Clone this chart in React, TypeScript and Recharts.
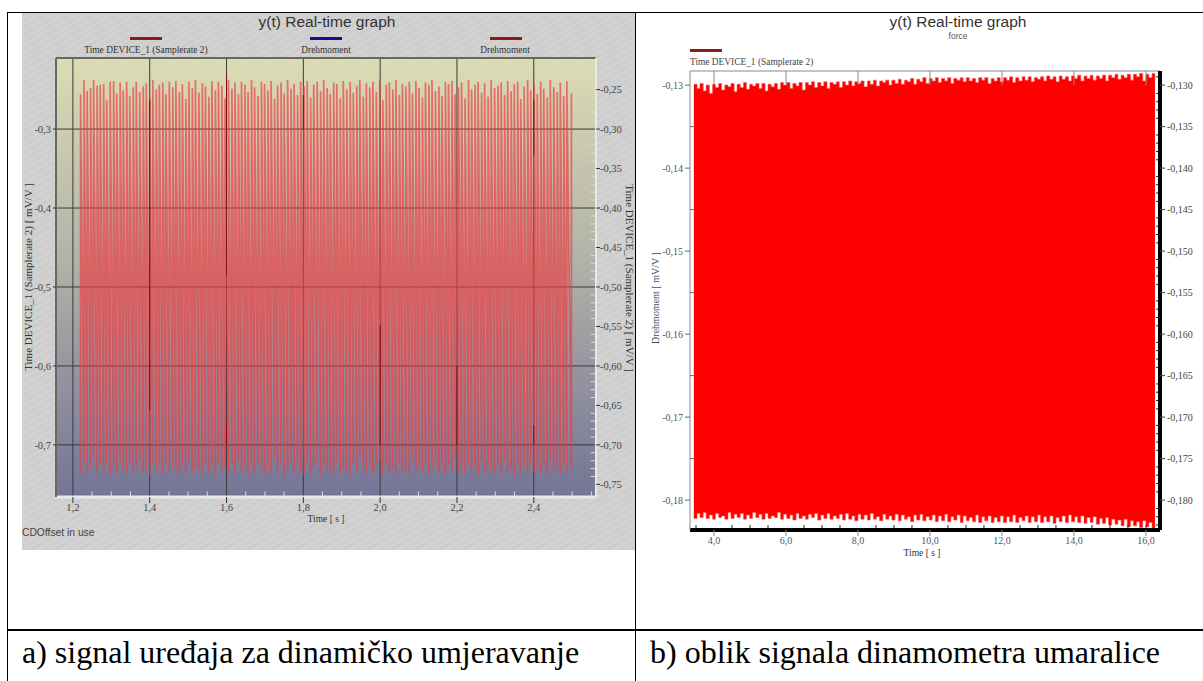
import type { CSSProperties, ReactNode } from 'react'
import { ComposedChart, Line, Area, XAxis, YAxis, CartesianGrid, ReferenceLine } from 'recharts'

// a) dynamic calibration device: one spike per sample time
const signalTimes = [
  1.220, 1.229, 1.237, 1.246, 1.254, 1.263, 1.271, 1.280, 1.288, 1.297,
  1.306, 1.314, 1.323, 1.331, 1.340, 1.348, 1.357, 1.365, 1.374, 1.383,
  1.391, 1.400, 1.408, 1.417, 1.425, 1.434, 1.442, 1.451, 1.460, 1.468,
  1.477, 1.485, 1.494, 1.502, 1.511, 1.519, 1.528, 1.537, 1.545, 1.554,
  1.562, 1.571, 1.579, 1.588, 1.596, 1.605, 1.614, 1.622, 1.631, 1.639,
  1.648, 1.656, 1.665, 1.673, 1.682, 1.691, 1.699, 1.708, 1.716, 1.725,
  1.733, 1.742, 1.750, 1.759, 1.768, 1.776, 1.785, 1.793, 1.802, 1.810,
  1.819, 1.827, 1.836, 1.845, 1.853, 1.862, 1.870, 1.879, 1.887, 1.896,
  1.904, 1.913, 1.922, 1.930, 1.939, 1.947, 1.956, 1.964, 1.973, 1.981,
  1.990, 1.999, 2.007, 2.016, 2.024, 2.033, 2.041, 2.050, 2.058, 2.067,
  2.076, 2.084, 2.093, 2.101, 2.110, 2.118, 2.127, 2.135, 2.144, 2.153,
  2.161, 2.170, 2.178, 2.187, 2.195, 2.204, 2.212, 2.221, 2.230, 2.238,
  2.247, 2.255, 2.264, 2.272, 2.281, 2.289, 2.298, 2.307, 2.315, 2.324,
  2.332, 2.341, 2.349, 2.358, 2.366, 2.375, 2.384, 2.392, 2.401, 2.409,
  2.418, 2.426, 2.435, 2.443, 2.452, 2.461, 2.469, 2.478, 2.486, 2.498,
]
const signalPeaks = [
  -0.256, -0.238, -0.252, -0.248, -0.238, -0.245, -0.244, -0.243, -0.263, -0.240,
  -0.239, -0.255, -0.241, -0.251, -0.240, -0.258, -0.247, -0.240, -0.253, -0.246,
  -0.242, -0.260, -0.238, -0.250, -0.244, -0.241, -0.256, -0.240, -0.247, -0.239,
  -0.253, -0.243, -0.262, -0.240, -0.248, -0.238, -0.254, -0.242, -0.246, -0.259,
  -0.239, -0.251, -0.240, -0.245, -0.261, -0.238, -0.249, -0.241, -0.256, -0.240,
  -0.244, -0.253, -0.238, -0.247, -0.258, -0.240, -0.243, -0.251, -0.239, -0.262,
  -0.245, -0.241, -0.255, -0.238, -0.249, -0.243, -0.257, -0.240, -0.246, -0.239,
  -0.260, -0.244, -0.240, -0.252, -0.238, -0.248, -0.256, -0.241, -0.243, -0.261,
  -0.239, -0.250, -0.240, -0.254, -0.245, -0.238, -0.259, -0.242, -0.247, -0.240,
  -0.253, -0.239, -0.263, -0.244, -0.241, -0.250, -0.238, -0.257, -0.243, -0.246,
  -0.240, -0.255, -0.239, -0.248, -0.260, -0.241, -0.244, -0.238, -0.252, -0.246,
  -0.258, -0.240, -0.243, -0.239, -0.256, -0.247, -0.241, -0.261, -0.238, -0.250,
  -0.244, -0.240, -0.254, -0.242, -0.259, -0.238, -0.248, -0.245, -0.241, -0.257,
  -0.239, -0.252, -0.243, -0.240, -0.262, -0.246, -0.238, -0.251, -0.244, -0.256,
  -0.240, -0.249, -0.260, -0.238, -0.247, -0.253, -0.241, -0.258, -0.239, -0.255,
]
const signalTroughs = [
  -0.735, -0.721, -0.736, -0.729, -0.718, -0.737, -0.726, -0.733, -0.722, -0.738,
  -0.727, -0.735, -0.720, -0.731, -0.737, -0.724, -0.734, -0.728, -0.719, -0.736,
  -0.730, -0.738, -0.723, -0.733, -0.726, -0.737, -0.721, -0.735, -0.729, -0.732,
  -0.738, -0.725, -0.734, -0.719, -0.736, -0.728, -0.731, -0.737, -0.723, -0.735,
  -0.727, -0.738, -0.721, -0.733, -0.729, -0.736, -0.724, -0.737, -0.720, -0.734,
  -0.730, -0.738, -0.726, -0.735, -0.722, -0.732, -0.737, -0.728, -0.736, -0.719,
  -0.734, -0.725, -0.738, -0.730, -0.721, -0.736, -0.727, -0.733, -0.737, -0.723,
  -0.735, -0.729, -0.720, -0.738, -0.726, -0.734, -0.731, -0.737, -0.722, -0.736,
  -0.728, -0.733, -0.738, -0.724, -0.735, -0.719, -0.732, -0.737, -0.727, -0.736,
  -0.730, -0.721, -0.738, -0.725, -0.734, -0.729, -0.737, -0.723, -0.735, -0.731,
  -0.738, -0.720, -0.733, -0.727, -0.736, -0.724, -0.737, -0.730, -0.722, -0.735,
  -0.728, -0.738, -0.726, -0.733, -0.719, -0.736, -0.731, -0.737, -0.723, -0.734,
  -0.729, -0.738, -0.721, -0.735, -0.727, -0.732, -0.737, -0.725, -0.736, -0.720,
  -0.733, -0.730, -0.738, -0.723, -0.735, -0.728, -0.737, -0.722, -0.734, -0.731,
  -0.736, -0.726, -0.738, -0.719, -0.733, -0.729, -0.737, -0.724, -0.735, -0.730,
]
// places where the dark grid line shows between the spikes: [time, from, to]
const signalDarkSpans = [
  [1.4, -0.263, -0.656],
  [1.6, -0.23, -0.485],
  [1.6, -0.675, -0.7],
  [1.8, -0.257, -0.301],
  [2.0, -0.548, -0.7],
  [2.2, -0.6, -0.7],
  [2.4, -0.263, -0.333],
  [2.4, -0.675, -0.7],
]
const signalTimeTicks = [1.2, 1.4, 1.6, 1.8, 2.0, 2.2, 2.4]
const signalTimeMinor = [1.25, 1.3, 1.35, 1.45, 1.5, 1.55, 1.65, 1.7, 1.75, 1.85, 1.9, 1.95, 2.05, 2.1, 2.15, 2.25, 2.3, 2.35, 2.45, 2.5, 2.55]
const signalLeftTicks = [-0.3, -0.4, -0.5, -0.6, -0.7]
const signalRightTicks = [-0.25, -0.3, -0.35, -0.4, -0.45, -0.5, -0.55, -0.6, -0.65, -0.7, -0.75]
const signalRightMinor = [-0.26, -0.27, -0.28, -0.29, -0.31, -0.32, -0.33, -0.34, -0.36, -0.37, -0.38, -0.39, -0.41, -0.42, -0.43, -0.44, -0.46, -0.47, -0.48, -0.49, -0.51, -0.52, -0.53, -0.54, -0.56, -0.57, -0.58, -0.59, -0.61, -0.62, -0.63, -0.64, -0.66, -0.67, -0.68, -0.69, -0.71, -0.72, -0.73, -0.74]

// b) dynamometer signal: too dense to see single swings, so upper and lower edge of the band
const forceTimes = [
  3.44, 3.53, 3.61, 3.70, 3.78, 3.87, 3.96, 4.04, 4.13, 4.21,
  4.30, 4.39, 4.47, 4.56, 4.64, 4.73, 4.82, 4.90, 4.99, 5.07,
  5.16, 5.25, 5.33, 5.42, 5.50, 5.59, 5.68, 5.76, 5.85, 5.93,
  6.02, 6.11, 6.19, 6.28, 6.36, 6.45, 6.54, 6.62, 6.71, 6.79,
  6.88, 6.97, 7.05, 7.14, 7.22, 7.31, 7.40, 7.48, 7.57, 7.65,
  7.74, 7.83, 7.91, 8.00, 8.08, 8.17, 8.26, 8.34, 8.43, 8.51,
  8.60, 8.69, 8.77, 8.86, 8.94, 9.03, 9.12, 9.20, 9.29, 9.37,
  9.46, 9.55, 9.63, 9.72, 9.80, 9.89, 9.98, 10.06, 10.15, 10.23,
  10.32, 10.41, 10.49, 10.58, 10.66, 10.75, 10.84, 10.92, 11.01, 11.09,
  11.18, 11.27, 11.35, 11.44, 11.52, 11.61, 11.70, 11.78, 11.87, 11.95,
  12.04, 12.13, 12.21, 12.30, 12.38, 12.47, 12.56, 12.64, 12.73, 12.81,
  12.90, 12.99, 13.07, 13.16, 13.24, 13.33, 13.42, 13.50, 13.59, 13.67,
  13.76, 13.85, 13.93, 14.02, 14.10, 14.19, 14.28, 14.36, 14.45, 14.53,
  14.62, 14.71, 14.79, 14.88, 14.96, 15.05, 15.14, 15.22, 15.31, 15.39,
  15.48, 15.57, 15.65, 15.74, 15.82, 15.91, 16.00, 16.08, 16.17, 16.25,
]
const forceUpper = [
  -0.1299, -0.1304, -0.1298, -0.1307, -0.1300, -0.1310, -0.1299, -0.1303, -0.1298, -0.1306,
  -0.1300, -0.1302, -0.1298, -0.1308, -0.1299, -0.1303, -0.1297, -0.1305, -0.1299, -0.1301,
  -0.1298, -0.1304, -0.1298, -0.1307, -0.1299, -0.1302, -0.1298, -0.1305, -0.1297, -0.1300,
  -0.1297, -0.1304, -0.1298, -0.1301, -0.1297, -0.1306, -0.1297, -0.1300, -0.1296, -0.1303,
  -0.1297, -0.1301, -0.1296, -0.1304, -0.1297, -0.1299, -0.1296, -0.1303, -0.1296, -0.1300,
  -0.1295, -0.1301, -0.1296, -0.1298, -0.1295, -0.1302, -0.1295, -0.1299, -0.1294, -0.1301,
  -0.1295, -0.1297, -0.1294, -0.1300, -0.1294, -0.1298, -0.1293, -0.1299, -0.1294, -0.1296,
  -0.1292, -0.1299, -0.1293, -0.1296, -0.1291, -0.1298, -0.1292, -0.1295, -0.1291, -0.1297,
  -0.1292, -0.1295, -0.1291, -0.1298, -0.1292, -0.1294, -0.1291, -0.1296, -0.1291, -0.1295,
  -0.1292, -0.1297, -0.1291, -0.1294, -0.1291, -0.1298, -0.1292, -0.1295, -0.1291, -0.1296,
  -0.1291, -0.1294, -0.1290, -0.1297, -0.1291, -0.1295, -0.1290, -0.1294, -0.1290, -0.1296,
  -0.1291, -0.1293, -0.1290, -0.1295, -0.1289, -0.1293, -0.1290, -0.1296, -0.1289, -0.1293,
  -0.1290, -0.1295, -0.1289, -0.1292, -0.1288, -0.1295, -0.1289, -0.1292, -0.1288, -0.1294,
  -0.1289, -0.1292, -0.1288, -0.1295, -0.1288, -0.1291, -0.1287, -0.1293, -0.1288, -0.1291,
  -0.1287, -0.1294, -0.1287, -0.1290, -0.1286, -0.1295, -0.1287, -0.1291, -0.1286, -0.1292,
]
const forceLower = [
  -0.1822, -0.1816, -0.1821, -0.1815, -0.1822, -0.1818, -0.1823, -0.1816, -0.1821, -0.1819,
  -0.1823, -0.1815, -0.1822, -0.1817, -0.1821, -0.1816, -0.1823, -0.1818, -0.1822, -0.1815,
  -0.1821, -0.1817, -0.1823, -0.1816, -0.1822, -0.1819, -0.1821, -0.1815, -0.1823, -0.1817,
  -0.1822, -0.1818, -0.1824, -0.1816, -0.1822, -0.1819, -0.1823, -0.1817, -0.1821, -0.1816,
  -0.1824, -0.1818, -0.1822, -0.1816, -0.1823, -0.1819, -0.1822, -0.1817, -0.1824, -0.1816,
  -0.1823, -0.1819, -0.1825, -0.1817, -0.1823, -0.1818, -0.1824, -0.1816, -0.1823, -0.1820,
  -0.1825, -0.1817, -0.1823, -0.1819, -0.1824, -0.1817, -0.1825, -0.1818, -0.1823, -0.1820,
  -0.1826, -0.1818, -0.1824, -0.1817, -0.1825, -0.1820, -0.1824, -0.1818, -0.1826, -0.1819,
  -0.1825, -0.1817, -0.1826, -0.1820, -0.1824, -0.1818, -0.1827, -0.1819, -0.1825, -0.1821,
  -0.1826, -0.1818, -0.1827, -0.1820, -0.1825, -0.1819, -0.1827, -0.1821, -0.1826, -0.1819,
  -0.1827, -0.1820, -0.1826, -0.1818, -0.1827, -0.1821, -0.1825, -0.1819, -0.1827, -0.1820,
  -0.1826, -0.1818, -0.1827, -0.1820, -0.1826, -0.1819, -0.1828, -0.1821, -0.1826, -0.1819,
  -0.1827, -0.1818, -0.1826, -0.1820, -0.1827, -0.1819, -0.1828, -0.1821, -0.1827, -0.1820,
  -0.1829, -0.1822, -0.1828, -0.1821, -0.1830, -0.1823, -0.1829, -0.1824, -0.1831, -0.1823,
  -0.1832, -0.1825, -0.1831, -0.1826, -0.1833, -0.1825, -0.1832, -0.1827, -0.1834, -0.1826,
]
const forceTimeTicks = [4, 6, 8, 10, 12, 14, 16]
const forceTimeMinor = [3.5, 4.5, 5, 5.5, 6.5, 7, 7.5, 8.5, 9, 9.5, 10.5, 11, 11.5, 12.5, 13, 13.5, 14.5, 15, 15.5, 16]
const forceLeftTicks = [-0.13, -0.14, -0.15, -0.16, -0.17, -0.18]
const forceLeftMinor = [-0.135, -0.145, -0.155, -0.165, -0.175]
const forceRightTicks = [-0.13, -0.135, -0.14, -0.145, -0.15, -0.155, -0.16, -0.165, -0.17, -0.175, -0.18]
const forceRightMinor = [-0.129, -0.131, -0.132, -0.133, -0.134, -0.136, -0.137, -0.138, -0.139, -0.141, -0.142, -0.143, -0.144, -0.146, -0.147, -0.148, -0.149, -0.151, -0.152, -0.153, -0.154, -0.156, -0.157, -0.158, -0.159, -0.161, -0.162, -0.163, -0.164, -0.166, -0.167, -0.168, -0.169, -0.171, -0.172, -0.173, -0.174, -0.176, -0.177, -0.178, -0.179, -0.181, -0.182, -0.183]

const signalRows = signalTimes.flatMap((t, i) => [
  { t, y: signalTroughs[i] },
  { t, y: signalPeaks[i] },
])
const forceRows = forceTimes.map((t, i) => ({ t, band: [forceLower[i], forceUpper[i]] }))

const SERIF = '"Liberation Serif", serif'
const SANS = '"Liberation Sans", sans-serif'
const SIGNAL_X: [number, number] = [1.156, 2.562]
const SIGNAL_Y: [number, number] = [-0.766, -0.21]
const FORCE_X: [number, number] = [3.333, 16.39]
const FORCE_Y: [number, number] = [-0.1836, -0.1283]

const comma = (digits: number) => (v: number) => v.toFixed(digits).replace('.', ',')

function Txt({ x, y, size, font = SERIF, color = '#333', anchor = 'left', children }: {
  x: number
  y: number
  size: number
  font?: string
  color?: string
  anchor?: 'left' | 'center'
  children: ReactNode
}) {
  const style: CSSProperties = {
    position: 'absolute', left: x, top: y, fontSize: size, fontFamily: font, color,
    whiteSpace: 'nowrap', lineHeight: 1,
    transform: anchor === 'center' ? 'translate(-50%, -50%)' : 'translateY(-50%)',
  }
  return <div style={style}>{children}</div>
}

function Bar({ x, y, w, color }: { x: number; y: number; w: number; color: string }) {
  return <div style={{ position: 'absolute', left: x, top: y, width: w, height: 3, background: color }} />
}

function Rule({ x, y, w, h }: { x: number; y: number; w: number; h: number }) {
  return <div style={{ position: 'absolute', left: x, top: y, width: w, height: h, background: '#000' }} />
}

function SignalChart() {
  const tick = { fill: '#444', fontSize: 10.5, fontFamily: SERIF }
  return (
    <ComposedChart width={613} height={537} data={signalRows} margin={{ top: 45, right: 0, bottom: 0, left: 0 }}>
      <defs>
        <linearGradient id="plotFill" x1="0" y1="0" x2="0" y2="1">
          <stop offset="0%" stopColor="#dcdcb4" />
          <stop offset="50%" stopColor="#aeaea8" />
          <stop offset="100%" stopColor="#747496" />
        </linearGradient>
      </defs>
      <CartesianGrid
        fill="url(#plotFill)"
        stroke="#3a3a3a"
        yAxisId="left"
        verticalValues={signalTimeTicks}
        horizontalValues={signalLeftTicks}
      />
      <XAxis
        type="number"
        dataKey="t"
        domain={SIGNAL_X}
        ticks={signalTimeTicks}
        tickFormatter={comma(1)}
        height={53}
        tickSize={6}
        tickMargin={1}
        tick={tick}
        axisLine={{ stroke: '#e8e8e8', strokeWidth: 3 }}
        tickLine={{ stroke: '#333' }}
      />
      <YAxis
        yAxisId="left"
        domain={SIGNAL_Y}
        ticks={signalLeftTicks}
        tickFormatter={comma(1)}
        width={34}
        tickSize={3}
        tickMargin={2}
        tick={tick}
        axisLine={{ stroke: '#686860', strokeWidth: 2 }}
        tickLine={{ stroke: '#333' }}
      />
      <YAxis
        yAxisId="right"
        orientation="right"
        domain={SIGNAL_Y}
        ticks={signalRightTicks}
        tickFormatter={comma(2)}
        width={39}
        tickSize={4}
        tickMargin={0}
        tick={tick}
        axisLine={{ stroke: '#e8e8e8', strokeWidth: 2 }}
        tickLine={{ stroke: '#333' }}
      />
      <ReferenceLine yAxisId="left" y={SIGNAL_Y[1]} stroke="#686860" strokeWidth={2} />
      <Line
        yAxisId="left"
        dataKey="y"
        stroke="#ec3c42"
        strokeOpacity={0.68}
        strokeWidth={1.7}
        dot={false}
        isAnimationActive={false}
      />
      {/* the right axis only shows its ticks when a series is bound to it */}
      <Line yAxisId="right" dataKey="y" stroke="none" dot={false} isAnimationActive={false} />
      {signalDarkSpans.map(([t, from, to], i) => (
        <ReferenceLine
          key={i}
          yAxisId="left"
          segment={[{ x: t, y: from }, { x: t, y: to }]}
          stroke="#7c1016"
          strokeWidth={1}
        />
      ))}
      {signalTimeMinor.map((t) => (
        <ReferenceLine
          key={t}
          yAxisId="left"
          segment={[{ x: t, y: SIGNAL_Y[0] }, { x: t, y: -0.759 }]}
          stroke="#d8d8dc"
          strokeWidth={1}
        />
      ))}
      {signalRightMinor.map((v) => (
        <ReferenceLine
          key={v}
          yAxisId="right"
          segment={[{ x: 2.548, y: v }, { x: SIGNAL_X[1], y: v }]}
          stroke="#d8d8dc"
          strokeWidth={1}
        />
      ))}
    </ComposedChart>
  )
}

function ForceChart() {
  const tick = { fill: '#4a5666', fontSize: 10, fontFamily: SERIF }
  return (
    <ComposedChart width={563} height={560} data={forceRows} margin={{ top: 58, right: 0, bottom: 0, left: 0 }}>
      <XAxis
        type="number"
        dataKey="t"
        domain={FORCE_X}
        ticks={forceTimeTicks}
        tickFormatter={comma(1)}
        height={43}
        tickSize={6}
        tickMargin={1}
        tick={tick}
        axisLine={{ stroke: '#000', strokeWidth: 4 }}
        tickLine={{ stroke: '#8a8a8a' }}
      />
      <YAxis
        yAxisId="left"
        domain={FORCE_Y}
        ticks={forceLeftTicks}
        tickFormatter={comma(2)}
        width={50}
        tickSize={5}
        tickMargin={2}
        tick={tick}
        axisLine={{ stroke: '#8a8a8a', strokeWidth: 1 }}
        tickLine={{ stroke: '#666' }}
      />
      <YAxis
        yAxisId="right"
        orientation="right"
        domain={FORCE_Y}
        ticks={forceRightTicks}
        tickFormatter={comma(3)}
        width={43}
        tickSize={5}
        tickMargin={2}
        tick={{ ...tick, fill: '#444' }}
        axisLine={{ stroke: '#000', strokeWidth: 4 }}
        tickLine={{ stroke: '#444' }}
      />
      <ReferenceLine yAxisId="left" y={FORCE_Y[1]} stroke="#8a8a8a" strokeWidth={1} />
      {forceTimeTicks.map((t) => (
        <ReferenceLine
          key={t}
          yAxisId="left"
          segment={[{ x: t, y: FORCE_Y[1] }, { x: t, y: -0.13 }]}
          stroke="#8a8a8a"
          strokeWidth={1}
        />
      ))}
      {forceLeftMinor.map((v) => (
        <ReferenceLine
          key={v}
          yAxisId="left"
          segment={[{ x: FORCE_X[0], y: v }, { x: 3.45, y: v }]}
          stroke="#666"
          strokeWidth={1}
        />
      ))}
      <Area
        yAxisId="left"
        type="stepAfter"
        dataKey="band"
        stroke="#ff5050"
        strokeWidth={0.6}
        fill="#ff0000"
        fillOpacity={1}
        dot={false}
        isAnimationActive={false}
      />
      {/* the right axis only shows its ticks when a series is bound to it */}
      <Area yAxisId="right" dataKey="band" stroke="none" fill="none" dot={false} isAnimationActive={false} />
      {forceTimeMinor.map((t) => (
        <ReferenceLine
          key={t}
          yAxisId="left"
          segment={[{ x: t, y: FORCE_Y[0] }, { x: t, y: -0.183 }]}
          stroke="#222"
          strokeWidth={1}
        />
      ))}
      {forceRightMinor.map((v) => (
        <ReferenceLine
          key={v}
          yAxisId="right"
          segment={[{ x: 16.28, y: v }, { x: FORCE_X[1], y: v }]}
          stroke="#222"
          strokeWidth={1}
        />
      ))}
    </ComposedChart>
  )
}

export default function App() {
  return (
    <div style={{ position: 'fixed', left: 0, top: 0, width: 1203, height: 681, overflow: 'hidden', background: '#fff' }}>
      <div
        style={{
          position: 'absolute', left: 22, top: 13, width: 613, height: 537,
          background: 'repeating-linear-gradient(150deg, #cdcdcd 0px, #cdcdcd 3px, #d2d2d2 3px, #d2d2d2 6px)',
        }}
      />
      <div style={{ position: 'absolute', left: 22, top: 13 }}>
        <SignalChart />
      </div>
      <div style={{ position: 'absolute', left: 640, top: 13 }}>
        <ForceChart />
      </div>

      <Txt x={327} y={22} size={15.5} font={SANS} anchor="center">y(t) Real-time graph</Txt>
      <Bar x={130} y={37} w={32} color="#8a1a1a" />
      <Txt x={146} y={51} size={9.4} anchor="center">Time DEVICE_1 (Samplerate 2)</Txt>
      <Bar x={310} y={37} w={32} color="#10108a" />
      <Txt x={326} y={51} size={9.4} anchor="center">Drehmoment</Txt>
      <Bar x={490} y={37} w={32} color="#8a1a1a" />
      <Txt x={505} y={51} size={9.4} anchor="center">Drehmoment</Txt>
      <div style={{ position: 'absolute', left: 28, top: 277, transform: 'translate(-50%, -50%) rotate(-90deg)', fontFamily: SERIF, fontSize: 11, color: '#333', whiteSpace: 'nowrap' }}>
        Time DEVICE_1 (Samplerate 2) [ mV/V ]
      </div>
      <div style={{ position: 'absolute', left: 630, top: 278, transform: 'translate(-50%, -50%) rotate(90deg)', fontFamily: SERIF, fontSize: 11, color: '#333', whiteSpace: 'nowrap' }}>
        Time DEVICE_1 (Samplerate 2) [ mV/V ]
      </div>
      <Txt x={326} y={520} size={9.5} anchor="center">Time [ s ]</Txt>
      <Txt x={22} y={533} size={10.3} font={SANS} color="#444">CDOffset in use</Txt>

      <Txt x={958} y={22} size={15.5} font={SANS} anchor="center">y(t) Real-time graph</Txt>
      <Txt x={958} y={36} size={8.5} font={SANS} color="#555" anchor="center">force</Txt>
      <Bar x={690} y={49} w={32} color="#8a1a1a" />
      <Txt x={690} y={63} size={9.4} color="#444">Time DEVICE_1 (Samplerate 2)</Txt>
      <div style={{ position: 'absolute', left: 655, top: 298, transform: 'translate(-50%, -50%) rotate(-90deg)', fontFamily: SERIF, fontSize: 10, color: '#3a4a66', whiteSpace: 'nowrap' }}>
        Drehmoment [ mV/V ]
      </div>
      <Txt x={922} y={554} size={9.5} anchor="center">Time [ s ]</Txt>

      <Rule x={7} y={12} w={1196} h={1} />
      <Rule x={7} y={12} w={1} h={669} />
      <Rule x={635} y={12} w={1} h={669} />
      <Rule x={7} y={629} w={1196} h={2} />
      <Txt x={22} y={652} size={32} color="#000">a) signal uređaja za dinamičko umjeravanje</Txt>
      <Txt x={650} y={652} size={32} color="#000">b) oblik signala dinamometra umaralice</Txt>
    </div>
  )
}
